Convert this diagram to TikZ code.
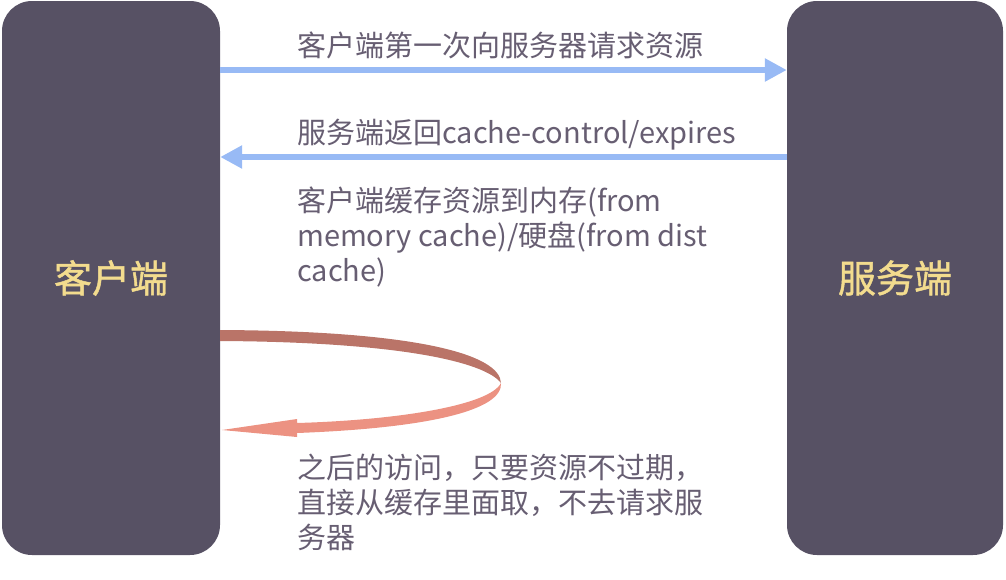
\documentclass[tikz,border=0pt]{standalone}
\usepackage{fontspec}
\setmainfont{Noto Sans CJK SC}
\newfontfamily\boxfont[FakeBold=1.2]{Noto Sans CJK SC}
\usepackage{xcolor}
\usetikzlibrary{arrows.meta}

\definecolor{boxgray}{HTML}{575164}
\definecolor{boxtext}{HTML}{F3DC8E}
\definecolor{labeltext}{HTML}{675E72}
\definecolor{reqblue}{HTML}{98BAF5}
\definecolor{loopdark}{HTML}{BA7468}
\definecolor{looplight}{HTML}{EC9282}

\tikzset{
  endbox/.style={fill=boxgray, rounded corners=30pt, inner sep=0pt,
    text=boxtext, font=\boxfont\fontsize{38}{42}\selectfont},
  msg/.style={text=labeltext, inner sep=0pt, font=\fontsize{29}{35}\selectfont},
  reqline/.style={draw=reqblue, line width=6pt,
    -{Triangle[length=22pt,width=22pt]}}
}

\begin{document}
\begin{tikzpicture}[x=1pt,y=-1pt]
        \useasboundingbox (0,0) rectangle (1006,579);

        % client and server
        \node[endbox, minimum width=218pt, minimum height=554pt] (client) at (111,278) {客户端};
        \node[endbox, minimum width=216pt, minimum height=554pt] (server) at (895,278) {服务端};

        % request and response
        \draw[reqline] (client.east |- 0,70) -- (server.west |- 0,70);
        \node[msg, anchor=west] (reqlabel) at (297,45) {客户端第一次向服务器请求资源};

        \draw[reqline] (server.west |- 0,157) -- (client.east |- 0,157);
        \node[msg, anchor=west] (resplabel) at (297,135) {服务端返回cache-control/expires};

        \node[msg, anchor=north west, align=left] (storelabel) at (297,187)
          {客户端缓存资源到内存(from\\memory cache)/硬盘(from dist\\cache)};

        % cache loop
        \coordinate (loopstart) at (client.east |- 0,330);
        \coordinate (loopturn) at (501,383);
        \coordinate (looptip) at (222,430);
        \fill[loopdark] (loopstart) .. controls (420,331) and (500,355) .. (loopturn)
          .. controls (485,362) and (400,342) .. (220,341) -- cycle;
        \fill[looplight] (loopturn) .. controls (490,405) and (400,420) .. (297,423)
          -- (297,419) -- (looptip) -- (297,437) -- (297,433)
          .. controls (430,428) and (503,410) .. (loopturn) -- cycle;

        \node[msg, anchor=north west, align=left] (reuselabel) at (297,454)
          {之后的访问，只要资源不过期，\\直接从缓存里面取，不去请求服\\务器};
    \end{tikzpicture}
\end{document}
